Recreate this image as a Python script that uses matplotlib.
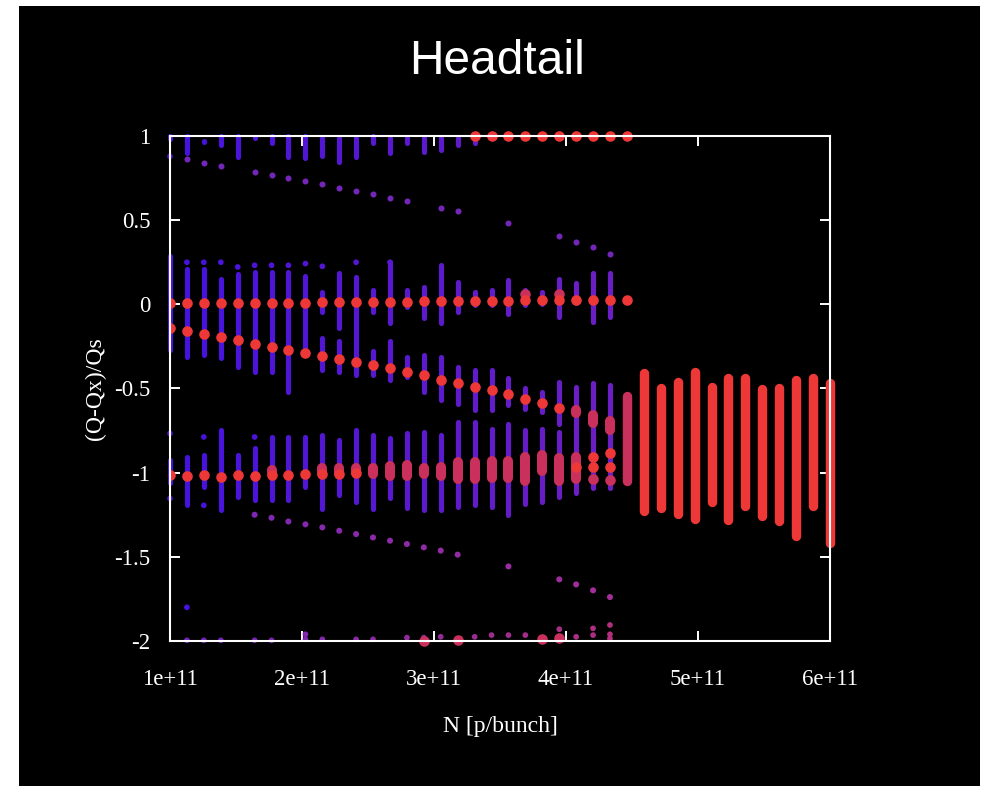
import numpy as np
import matplotlib
matplotlib.use('Agg')
import matplotlib.pyplot as plt
from matplotlib.patches import Rectangle
from matplotlib.colors import to_rgb

# Beam intensity steps, in units of 1e11 p/bunch
N = np.array([1.000, 1.128, 1.256, 1.385, 1.513, 1.641, 1.769, 1.897, 2.026, 2.154,
              2.282, 2.410, 2.538, 2.667, 2.795, 2.923, 3.051, 3.179, 3.308, 3.436,
              3.564, 3.692, 3.821, 3.949, 4.077, 4.205, 4.333, 4.462, 4.590, 4.718,
              4.846, 4.974, 5.103, 5.231, 5.359, 5.487, 5.615, 5.744, 5.872, 6.000]) * 1e11

# strong modes (red)
zero_mode = [0.008, 0.008, 0.008, 0.008, 0.008, 0.010, 0.010, 0.010, 0.010, 0.012,
             0.012, 0.014, 0.014, 0.016, 0.016, 0.018, 0.020, 0.020, 0.022, 0.022,
             0.022, 0.024, 0.024, 0.024, 0.025, 0.026, 0.026, 0.028]
desc_mode = [-0.141, -0.159, -0.178, -0.196, -0.214, -0.234, -0.252, -0.270, -0.289, -0.307,
             -0.327, -0.345, -0.362, -0.380, -0.400, -0.422, -0.447, -0.468, -0.491, -0.511,
             -0.535, -0.562, -0.586, -0.614]
m1_mode = [-1.016, -1.020, -1.016, -1.026, -1.016, -1.020, -1.016, -1.016, -1.010, -1.010,
           -1.005, -1.000]
top_idx = [18, 19, 20, 21, 22, 23, 24, 25, 26, 27]
top_mode = [0.998, 0.998, 0.998, 0.998, 0.998, 0.998, 0.998, 0.998, 0.998, 0.998]
red_idx = [24, 25, 25, 26, 26]
red_y = [-0.967, -0.907, -0.967, -0.884, -0.967]

# merged (pinkish) modes
pink_idx = [6, 9, 10, 11, 12, 13, 14, 15, 16, 17, 18, 19, 20, 21, 22, 23, 24, 24, 25, 26]
pink_hi = [-0.985, -0.975, -0.975, -0.975, -0.970, -0.960, -0.955, -0.970, -0.965, -0.935,
           -0.935, -0.930, -0.930, -0.905, -0.895, -0.915, -0.905, -0.625, -0.655, -0.695]
pink_lo = [-1.000, -1.000, -1.000, -1.000, -1.010, -1.020, -1.020, -1.010, -1.020, -1.040,
           -1.040, -1.030, -1.030, -1.050, -0.990, -1.050, -1.040, -0.645, -0.705, -0.745]
pink_dot_idx = [21, 23, 25, 26, 15, 17, 22, 23]
pink_dot_y = [0.064, 0.064, -1.036, -1.046, -2.000, -1.995, -1.990, -1.985]

# weak spectrum lines (blue / purple bands)
top_band_hi = [1.000, 1.000, 0.970, 1.000, 1.000, 0.992, 1.000, 1.000, 1.000, 0.990,
               0.990, 0.990, 1.000, 0.990, 0.990, 0.990, 0.990, 0.990, 0.975]
top_band_lo = [0.985, 0.897, 0.965, 0.945, 0.875, 0.990, 0.957, 0.873, 0.867, 0.879,
               0.845, 0.875, 0.957, 0.897, 0.957, 0.903, 0.915, 0.945, 0.960]
mid_hi = [0.290, 0.210, 0.210, 0.150, 0.180, 0.190, 0.190, 0.190, 0.170, 0.073,
          0.184, 0.162, 0.083, 0.251, 0.083, 0.100, 0.232, 0.132, 0.073, 0.083,
          0.143, 0.083, 0.073, 0.153, 0.125, 0.184, 0.184]
mid_lo = [-0.270, -0.310, -0.300, -0.320, -0.370, -0.400, -0.400, -0.520, -0.300, -0.046,
          -0.143, -0.390, -0.046, -0.113, -0.016, -0.083, -0.113, -0.046, -0.006, -0.006,
          -0.055, -0.006, 0.000, -0.075, 0.006, -0.105, -0.075]
desc_band_idx = [9, 10, 11, 12, 13, 14, 15, 16, 17, 18, 19, 20, 21, 22, 23, 24, 25, 26]
desc_band_hi = [-0.200, -0.220, -0.300, -0.280, -0.220, -0.310, -0.300, -0.310, -0.373, -0.392,
                -0.392, -0.440, -0.500, -0.520, -0.460, -0.490, -0.470, -0.480]
desc_band_lo = [-0.390, -0.400, -0.420, -0.420, -0.450, -0.430, -0.520, -0.570, -0.590, -0.630,
                -0.630, -0.600, -0.620, -0.640, -0.710, -1.120, -1.090, -1.090]
m1_band_hi = [-0.927, -0.907, -0.897, -0.749, -0.897, -0.856, -0.788, -0.788, -0.788, -0.778,
              -0.808, -0.749, -0.778, -0.796, -0.766, -0.759, -0.778, -0.699, -0.699, -0.739,
              -0.709, -0.749, -0.739, -0.759]
m1_band_lo = [-1.064, -1.194, -1.086, -1.224, -1.145, -1.165, -1.165, -1.165, -1.086, -1.214,
              -1.135, -1.175, -1.214, -1.153, -1.212, -1.224, -1.224, -1.204, -1.194, -1.204,
              -1.254, -1.184, -1.175, -1.145]

# isolated weak lines
dot_idx = [0, 0, 0, 2, 2, 5, 1, 1, 2, 3, 4, 5, 6, 7, 8, 9, 11, 13]
dot_y = [0.879, -0.767, -1.153, -0.788, -1.194, -0.788, -1.800,
         0.250, 0.250, 0.250, 0.222, 0.232, 0.232, 0.232, 0.242, 0.226, 0.250, 0.250]
diag_top_idx = [1, 2, 3, 5, 6, 7, 8, 9, 10, 11, 12, 13, 14, 16, 17, 20, 23, 24, 25, 26]
diag_top_y = [0.862, 0.842, 0.822, 0.786, 0.771, 0.751, 0.731, 0.713, 0.693, 0.673,
              0.654, 0.634, 0.614, 0.572, 0.553, 0.483, 0.404, 0.372, 0.340, 0.301]
diag_bot_idx = [5, 6, 7, 8, 9, 10, 11, 12, 13, 14, 15, 16, 17, 20, 23, 24, 25, 26]
diag_bot_y = [-1.250, -1.268, -1.290, -1.307, -1.325, -1.345, -1.365, -1.385, -1.404, -1.424,
              -1.444, -1.463, -1.487, -1.557, -1.634, -1.664, -1.699, -1.739]
edge_idx = [1, 2, 3, 5, 6, 8, 8, 9, 11, 12, 14, 15, 16, 18, 19, 20, 21, 23, 24, 25, 25, 26, 26, 26]
edge_y = [-1.996, -1.996, -1.996, -1.996, -1.996, -1.960, -1.990, -1.990, -1.990, -1.990,
          -1.980, -1.980, -1.975, -1.975, -1.965, -1.965, -1.965, -1.930, -1.975, -1.925,
          -1.965, -1.905, -1.960, -1.985]

# unstable region: wide spread of strong lines
bar_idx = [27, 28, 29, 30, 31, 32, 33, 34, 35, 36, 37, 38, 39]
bar_hi = [-0.545, -0.410, -0.500, -0.460, -0.400, -0.490, -0.440, -0.440, -0.505, -0.500,
          -0.450, -0.435, -0.465]
bar_lo = [-1.050, -1.230, -1.210, -1.245, -1.275, -1.175, -1.280, -1.200, -1.260, -1.290,
          -1.375, -1.200, -1.420]

RED = '#ee3838'
PINK = '#c9305c'


def blend(c1, c2, t):
    a, b = np.array(to_rgb(c1)), np.array(to_rgb(c2))
    return tuple(a + (b - a) * t)


def band_colors(idx):
    return [blend('#4412de', '#6a1ec4', min(i / 24.0, 1.0)) for i in idx]


plt.rcParams['font.family'] = ['Liberation Serif', 'DejaVu Serif']

fig = plt.figure(figsize=(9.85, 7.94), dpi=100, facecolor='white')
bg = Rectangle((19 / 985, 1 - 786 / 794), 961 / 985, 780 / 794,
               transform=fig.transFigure, facecolor='black', edgecolor='none', zorder=-10)
fig.add_artist(bg)
ax = fig.add_axes([170 / 985, 1 - 641 / 794, 660 / 985, 505 / 794])
ax.set_facecolor('black')

# weak bands
top_i = list(range(len(top_band_lo)))
mid_i = list(range(len(mid_lo)))
m1_i = list(range(len(m1_band_lo)))
for idx, lo, hi in [(top_i, top_band_lo, top_band_hi), (mid_i, mid_lo, mid_hi),
                    (desc_band_idx, desc_band_lo, desc_band_hi), (m1_i, m1_band_lo, m1_band_hi)]:
    lc = ax.vlines(N[idx], lo, hi, colors=band_colors(idx), linewidth=3.7, zorder=2)
    lc.set_capstyle('round')
    lc.set_clip_on(False)

ax.scatter(N[dot_idx], dot_y, s=17, color=band_colors(dot_idx), lw=0, zorder=3, clip_on=False)
ax.scatter(N[diag_top_idx], diag_top_y, s=19, color='#7426b8', lw=0, zorder=3)
ax.scatter(N[diag_bot_idx], diag_bot_y, s=19,
           color=[blend('#7426b8', '#a42e98', i / 26.0) for i in diag_bot_idx], lw=0, zorder=3)
ax.scatter(N[edge_idx], edge_y, s=17,
           color=[blend('#6a22c0', '#b0307e', i / 26.0) for i in edge_idx], lw=0, zorder=3,
           clip_on=False)

# merged modes
lc = ax.vlines(N[pink_idx], pink_lo, pink_hi, colors=PINK, linewidth=7.2, zorder=4)
lc.set_capstyle('round')
ax.scatter(N[pink_dot_idx], pink_dot_y, s=58, color=PINK, lw=0, zorder=4, clip_on=False)

# strong modes
ax.scatter(N[:len(zero_mode)], zero_mode, s=58, color=RED, lw=0, zorder=5)
ax.scatter(N[:len(desc_mode)], desc_mode, s=58, color=RED, lw=0, zorder=5)
ax.scatter(N[:len(m1_mode)], m1_mode, s=58, color=RED, lw=0, zorder=5)
ax.scatter(N[top_idx], top_mode, s=58, color=RED, lw=0, zorder=5, clip_on=False)
ax.scatter(N[red_idx], red_y, s=58, color=RED, lw=0, zorder=5)

bar_cols = [PINK if i == 27 else RED for i in bar_idx]
lc = ax.vlines(N[bar_idx], bar_lo, bar_hi, colors=bar_cols, linewidth=6.8, zorder=5)
lc.set_capstyle('round')
lc.set_clip_on(False)

ax.set_xlim(1e11, 6e11)
ax.set_ylim(-2, 1)
ax.set_xticks([1e11, 2e11, 3e11, 4e11, 5e11, 6e11])
ax.set_xticklabels(['1e+11', '2e+11', '3e+11', '4e+11', '5e+11', '6e+11'])
ax.set_yticks([1, 0.5, 0, -0.5, -1, -1.5, -2])
ax.set_yticklabels(['1', '0.5', '0', '-0.5', '-1', '-1.5', '-2'])
ax.tick_params(direction='in', length=7.5, width=1.4, top=True, right=True,
               colors='white', labelcolor='white', labelsize=16.5)
ax.tick_params(axis='x', pad=20)
ax.tick_params(axis='y', pad=14)
for sp in ax.spines.values():
    sp.set_color('white')
    sp.set_linewidth(1.5)
    sp.set_zorder(6)

ax.set_xlabel('N [p/bunch]', color='white', fontsize=17, labelpad=19)
ax.set_ylabel('(Q-Qx)/Qs', color='white', fontsize=17, labelpad=6)

fig.text(0.505, 1 - 61 / 794, 'Headtail', color='white', fontsize=34.5,
         family=['Liberation Sans', 'DejaVu Sans'], ha='center', va='center')

fig.savefig('out.png', dpi=100, facecolor='white')
